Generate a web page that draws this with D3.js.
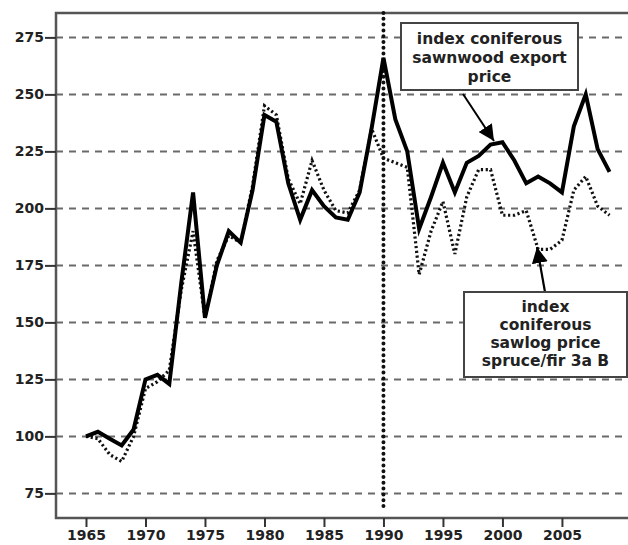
<!DOCTYPE html>
<html><head><meta charset="utf-8">
<script src="https://cdn.jsdelivr.net/npm/d3@7"></script>
<style>body{margin:0;background:#fff}svg{display:block}text{font-family:"DejaVu Sans",Verdana,sans-serif;font-weight:bold}</style>
</head><body><svg id="c" width="628" height="545"></svg>
<script>
const years = d3.range(1965, 2010);
const sawnwoodExport = [100,102,99,96,103,125,127,123,167,207,152,175,190,185,208,241,238,211,195,208,201,196,195,207,235,266,239,225,191,205,220,207,220,223,228,229,221,211,214,211,207,236,250,226,216];
const sawlogPrice =    [100,99,92,89,100,121,124,129,164,190,152,177,188,185,210,245,241,213,202,221,208,199,198,208,235,222,220,218,171,190,203,180,205,217,217,197,197,199,182,182,186,208,214,201,197];
const yTicks = [75,100,125,150,175,200,225,250,275];
const xTicks = [1965,1970,1975,1980,1985,1990,1995,2000,2005];
const markerYear = 1990;
const label1 = ["index coniferous","sawnwood export","price"];
const label2 = ["index","coniferous","sawlog price","spruce/fir 3a B"];

const svg = d3.select("#c");
const L=56, T=13, R=640, B=518;
const x = d3.scaleLinear().domain([1962.48, 2011.56]).range([L, R]);
const y = d3.scaleLinear().domain([64.2, 285.7]).range([B, T]);

// grid
svg.append("g").selectAll("line").data(yTicks).join("line")
  .attr("x1", L).attr("x2", 628).attr("y1", d=>y(d)).attr("y2", d=>y(d))
  .attr("stroke","#6a6a6a").attr("stroke-width",2).attr("stroke-dasharray","7,6");

// frame
svg.append("path").attr("d",`M628,${T}H${L}V${B}H628`).attr("fill","none").attr("stroke","#555").attr("stroke-width",2.5);

// axes
const ya = svg.append("g").attr("transform",`translate(${L},0)`).call(d3.axisLeft(y).tickValues(yTicks).tickSize(11).tickPadding(1));
const xa = svg.append("g").attr("transform",`translate(0,${B})`).call(d3.axisBottom(x).tickValues(xTicks).tickFormat(d3.format("d")).tickSize(9).tickPadding(3));
[ya,xa].forEach(a=>{a.select(".domain").remove();a.selectAll("line").attr("stroke","#333").attr("stroke-width",2);
  a.selectAll("text").attr("fill","#222").style("font-size","14px").style("font-weight","bold").style("font-family","'DejaVu Sans',Verdana,sans-serif");});

// vertical marker
svg.append("line").attr("x1",x(markerYear)).attr("x2",x(markerYear)).attr("y1",T).attr("y2",508)
  .attr("stroke","#111").attr("stroke-width",4).attr("stroke-linecap","round").attr("stroke-dasharray","0,5.8");

const line = d3.line().x((d,i)=>x(years[i])).y(d=>y(d));
svg.append("path").attr("d",line(sawlogPrice)).attr("fill","none").attr("stroke","#111").attr("stroke-width",3.2).attr("stroke-dasharray","2.2,2.6");
svg.append("path").attr("d",line(sawnwoodExport)).attr("fill","none").attr("stroke","#000").attr("stroke-width",4).attr("stroke-linejoin","miter");

// annotations
svg.append("defs").append("marker").attr("id","ah").attr("viewBox","0 0 10 10").attr("refX",10).attr("refY",5)
  .attr("markerWidth",16).attr("markerHeight",16).attr("markerUnits","userSpaceOnUse").attr("orient","auto")
  .append("path").attr("d","M0,0L10,5L0,10z").attr("fill","#000");

function box(x0,y0,w,h,lines,ly0,lh){
  svg.append("rect").attr("x",x0).attr("y",y0).attr("width",w).attr("height",h).attr("fill","#fff").attr("stroke","#444").attr("stroke-width",2);
  svg.append("g").selectAll("text").data(lines).join("text").attr("x",x0+w/2).attr("y",(d,i)=>ly0+i*lh)
    .attr("text-anchor","middle").attr("fill","#222").style("font-size","15.5px").text(d=>d);
}
svg.append("line").attr("x1",463).attr("y1",94).attr("x2",494).attr("y2",141).attr("stroke","#000").attr("stroke-width",2).attr("marker-end","url(#ah)");
box(401,23,177,67,label1,43.5,19);
svg.append("line").attr("x1",545).attr("y1",292).attr("x2",537).attr("y2",247).attr("stroke","#000").attr("stroke-width",2.2).attr("marker-end","url(#ah)");
box(464,292,163,85,label2,312,18);
</script></body></html>
